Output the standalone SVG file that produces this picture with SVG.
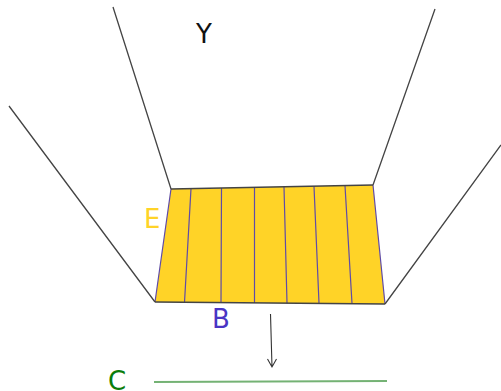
<svg xmlns="http://www.w3.org/2000/svg" width="501" height="391" viewBox="0 0 501 391">
<style>
.lbl{font-family:"DejaVu Sans",sans-serif;font-size:26px}
.edge{fill:none;stroke:#444;stroke-width:1.300}
.div{fill:none;stroke:#5f4ba8;stroke-width:1.200}
</style>
<rect width="501" height="391" fill="#fff"/>
<g id="panel">
<polygon points="171,189 373,185 385,304 155,302" fill="#ffd327"/>
<g class="div">
<path d="M171,189L155,302M191,188.600L184.500,302.200M221.500,188L221,302.500M254.500,187.500L254.500,303M284,187L287,303.200M314,186.400L319,303.300M345,185.700L352,303.500M373,185L385,304"/>
</g>
<path class="edge" d="M171,189L373,185M155,302L385,304"/>
</g>
<g id="walls">
<path class="edge" d="M113,7L171,189M9,106L155,302M435,9L373,185M501,145L385,304"/>
</g>
<g id="connectors">
<path d="M270.500,314L272,367M267.500,359L272,367L276.500,359" fill="none" stroke="#333" stroke-width="1.100"/>
</g>
<g id="line-c"><path d="M154,382L387,381" fill="none" stroke="#74b274" stroke-width="1.800"/></g>
<g id="label-y"><text class="lbl" x="196" y="43" fill="#111">Y</text></g>
<g id="label-e"><text class="lbl" x="144" y="228" fill="#ffd327">E</text></g>
<g id="label-b"><text class="lbl" x="212" y="328" fill="#4a35c4">B</text></g>
<g id="label-c"><text class="lbl" x="108" y="389.500" fill="#0a7d0a">C</text></g>
</svg>
